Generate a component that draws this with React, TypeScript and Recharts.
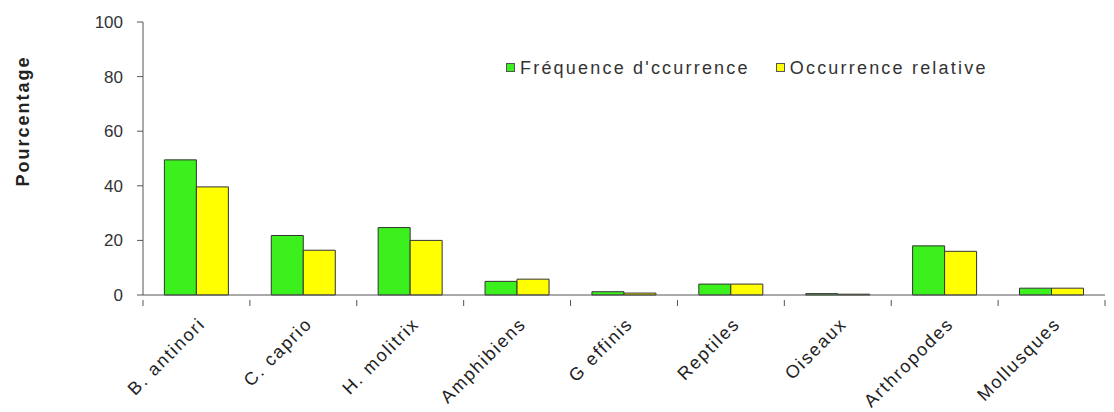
import { useEffect } from 'react';
import { BarChart, Bar, XAxis, YAxis, Legend } from 'recharts';

const categories = ['B. antinori', 'C. caprio', 'H. molitrix', 'Amphibiens', 'G effinis', 'Reptiles', 'Oiseaux', 'Arthropodes', 'Mollusques'];
const frequence = [49.5, 21.8, 24.7, 5.0, 1.2, 4.0, 0.5, 18.0, 2.5];
const relative = [39.6, 16.4, 20.0, 5.8, 0.7, 4.0, 0.3, 16.0, 2.5];
const yTicks = [0, 20, 40, 60, 80, 100];

const GREEN = '#3cf01e';
const YELLOW = '#ffff00';
const FONT = 'Liberation Sans, Arial, sans-serif';

const data = categories.map((name, i) => ({ name, freq: frequence[i], rel: relative[i] }));

const BAND = 962 / categories.length;

function CategoryTick(props: any) {
  const { x, y, payload, index } = props;
  const tx = x + 10;
  const ty = y + 22;
  return (
    <g>
      <line x1={x + BAND / 2} x2={x + BAND / 2} y1={y - 3} y2={y + 3} stroke="#555" />
      {index === 0 && <line x1={x - BAND / 2} x2={x - BAND / 2} y1={y - 3} y2={y + 3} stroke="#555" />}
      <text
        x={tx}
        y={ty}
        textAnchor="end"
        transform={`rotate(-45, ${tx}, ${ty})`}
        fontSize={18}
        letterSpacing={1.8}
        fontFamily={FONT}
        fill="#222"
      >
        {payload.value}
      </text>
    </g>
  );
}

function LegendBox() {
  const item = (color: string, label: string, gap: number) => (
    <span style={{ display: 'inline-flex', alignItems: 'center', marginRight: gap }}>
      <span style={{ width: 7, height: 7, background: color, border: '1px solid #555', marginRight: 5 }} />
      <span>{label}</span>
    </span>
  );
  return (
    <div style={{ fontFamily: FONT, fontSize: 18, letterSpacing: 2.2, color: '#333', whiteSpace: 'nowrap', lineHeight: '20px' }}>
      {item(GREEN, "Fréquence d'ccurrence", 26)}
      {item(YELLOW, 'Occurrence relative', 0)}
    </div>
  );
}

export default function App() {
  useEffect(() => {
    document.body.style.margin = '0';
  }, []);

  return (
    <div style={{ width: 1114, height: 412, background: '#fff', position: 'relative' }}>
      <BarChart
        width={1114}
        height={412}
        data={data}
        margin={{ top: 22, right: 9, left: 73, bottom: 0 }}
        barCategoryGap="20%"
        barGap={0}
      >
        <YAxis
          domain={[0, 100]}
          ticks={yTicks}
          width={70}
          tickSize={6}
          tickMargin={14}
          stroke="#555"
          tick={{ fontSize: 17, fill: '#333', fontFamily: FONT }}
        />
        <XAxis
          dataKey="name"
          height={117}
          interval={0}
          stroke="#555"
          tickLine={false}
          tick={<CategoryTick />}
        />
        <Legend
          verticalAlign="middle"
          align="center"
          layout="horizontal"
          content={<LegendBox />}
          wrapperStyle={{ top: 56, left: 506, width: 'auto' }}
        />
        <Bar dataKey="freq" fill={GREEN} stroke="#333" strokeWidth={1} isAnimationActive={false} />
        <Bar dataKey="rel" fill={YELLOW} stroke="#333" strokeWidth={1} isAnimationActive={false} />
      </BarChart>
      <div
        style={{
          position: 'absolute',
          left: 23,
          top: 121,
          transform: 'translate(-50%, -50%) rotate(-90deg)',
          fontFamily: FONT,
          fontWeight: 'bold',
          fontSize: 18,
          letterSpacing: 2,
          color: '#222',
          whiteSpace: 'nowrap',
        }}
      >
        Pourcentage
      </div>
    </div>
  );
}
